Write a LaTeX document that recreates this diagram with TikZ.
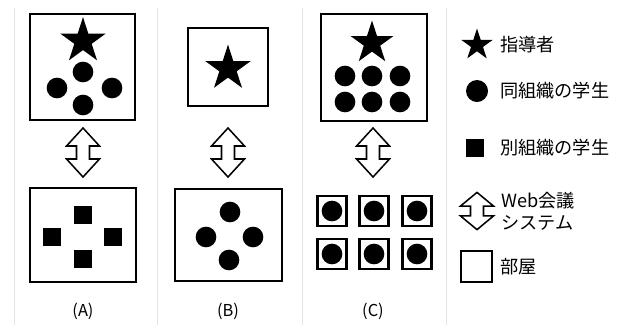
\documentclass[tikz,border=0pt]{standalone}
\usepackage{fontspec}
\setmainfont{Noto Sans CJK JP}
\usetikzlibrary{shapes.geometric,positioning}

\begin{document}
\begin{tikzpicture}[
  x=0.3mm,y=-0.3mm,
  room/.style={draw,line width=1.9pt,inner sep=0},
  leader/.style={star,star points=5,star point ratio=2.618,fill=black,inner sep=0},
  same/.style={circle,fill=black,inner sep=0,minimum size=6.2mm},
  other/.style={rectangle,fill=black,inner sep=0,minimum size=5.3mm},
  legtext/.style={inner sep=0,align=left,font=\fontsize{15.5}{18.7}\selectfont},
  caption/.style={inner sep=0,font=\fontsize{14}{16}\selectfont},
  sep/.style={gray!22,line width=0.8pt},
  webarrow/.pic={\draw[line width=1.3pt,fill=white,line join=miter]
    (0,-24.5) -- (16.5,-6.5) -- (6.5,-6.5) -- (6.5,6.5) -- (16.5,6.5) -- (0,24.5)
    -- (-16.5,6.5) -- (-6.5,6.5) -- (-6.5,-6.5) -- (-16.5,-6.5) -- cycle;}
]
\useasboundingbox (0,0) rectangle (628,325);
\foreach \x in {14,157,302,446} \draw[sep] (\x,8) -- (\x,325);

% (A)
\node[room,minimum width=31.5mm,minimum height=31.8mm] (rA1) at (82.5,67) {};
\node[leader,minimum size=14.3mm] (sA) at (83,41) {};
\node[same] (cA1) at (83,72) {};
\node[same] (cA2) at (57,88) {};
\node[same] (cA3) at (112,88) {};
\node[same] (cA4) at (83,105) {};
\pic at (83,152.5) {webarrow};
\node[room,minimum width=31.8mm,minimum height=28.2mm] (rA2) at (83,235) {};
\node[other] (qA1) at (83,215) {};
\node[other] (qA2) at (52,237) {};
\node[other] (qA3) at (113,237) {};
\node[other] (qA4) at (83,259) {};
\node[caption] (capA) at (83,311) {(A)};

% (B)
\node[room,minimum width=24mm,minimum height=23.4mm] (rB1) at (228,67) {};
\node[leader,minimum size=14.3mm] (sB) at (228,68.5) {};
\pic at (228,152.5) {webarrow};
\node[room,minimum width=32.1mm,minimum height=27.6mm] (rB2) at (228.5,235) {};
\node[same] (cB1) at (230,212) {};
\node[same] (cB2) at (206,237) {};
\node[same] (cB3) at (253,237) {};
\node[same] (cB4) at (229,260) {};
\node[caption] (capB) at (228,311) {(B)};

% (C)
\node[room,minimum width=31.8mm,minimum height=32.1mm] (rC1) at (374,67.5) {};
\node[leader,minimum size=13.5mm] (sC) at (372,43) {};
\foreach \x [count=\i] in {345,372,400}
  \foreach \y [count=\j] in {76,102}
    \node[same] (cC\i\j) at (\x,\y) {};
\pic at (373,152.5) {webarrow};
\foreach \x [count=\i] in {332,374,417}
  \foreach \y [count=\j] in {211,254} {
    \node[room,minimum width=8.7mm,minimum height=9mm] (rC\i\j) at (\x,\y) {};
    \node[same] (dC\i\j) at (rC\i\j) {};
  }
\node[caption] (capC) at (373,311) {(C)};

% legend
\node[leader,minimum size=9.9mm] (lstar) at (477,45) {};
\node[legtext,right=6.9mm of lstar.center] (tstar) {指導者};
\node[same,minimum size=6.6mm] (lsame) at (477,91) {};
\node[legtext,right=6.9mm of lsame.center] (tsame) {同組織の学生};
\node[other] (lother) at (475,148) {};
\node[legtext,right=7.5mm of lother.center] (tother) {別組織の学生};
\coordinate (larrow) at (477,211);
\pic[yscale=0.76] at (larrow) {webarrow};
\node[legtext,right=7.2mm of larrow] (tarrow) {Web会議\\システム};
\node[room,minimum size=9.3mm] (lroom) at (476.5,266.5) {};
\node[legtext,right=7.05mm of lroom.center] (troom) {部屋};
\end{tikzpicture}
\end{document}
